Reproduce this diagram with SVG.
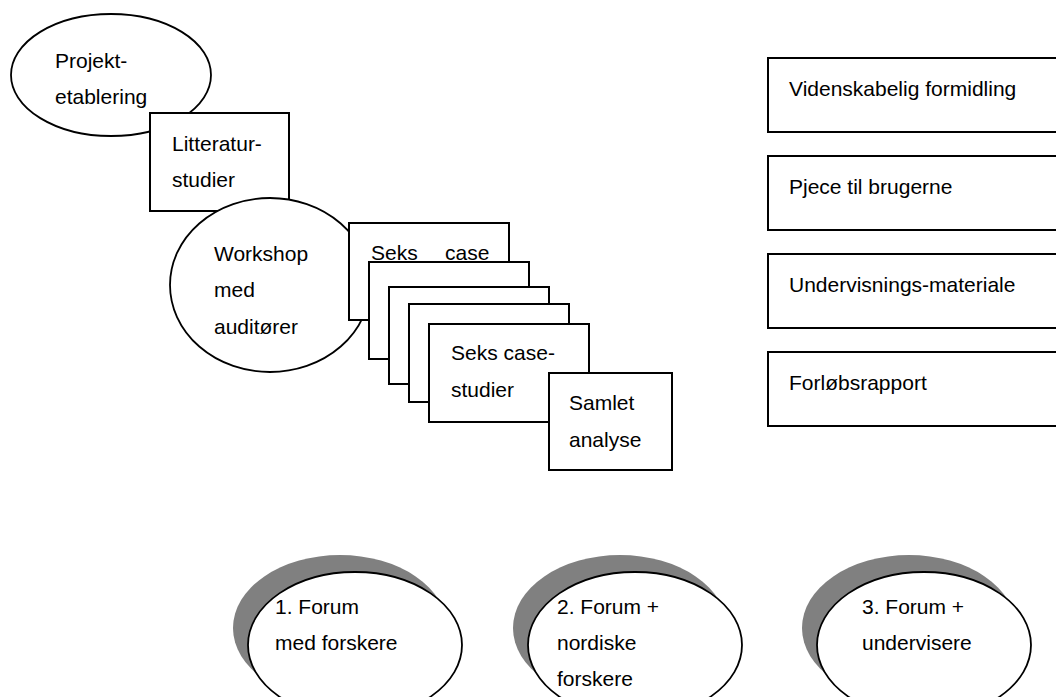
<svg xmlns="http://www.w3.org/2000/svg" width="1056" height="697" viewBox="0 0 1056 697">
  <style>
    .shape { fill: #ffffff; stroke: #000000; stroke-width: 2; }
    .oval { fill: #ffffff; stroke: #000000; stroke-width: 1.8; }
    .shadow { fill: #808080; stroke: none; }
    text { font-family: "Liberation Sans", Arial, sans-serif; font-size: 21px; fill: #000000; }
  </style>
  <rect x="0" y="0" width="1056" height="697" fill="#ffffff"/>

  <!-- project phases, stacked left to right -->
  <g id="projektetablering">
    <ellipse class="oval" cx="111" cy="75" rx="100" ry="61"/>
    <text x="55" y="68">Projekt-</text>
    <text x="55" y="104">etablering</text>
  </g>
  <g id="litteraturstudier">
    <rect class="shape" x="150" y="113" width="139" height="98"/>
    <text x="172" y="151">Litteratur-</text>
    <text x="172" y="187">studier</text>
  </g>
  <g id="workshop">
    <ellipse class="oval" cx="270" cy="285" rx="100" ry="87"/>
    <text x="214" y="261">Workshop</text>
    <text x="214" y="297">med</text>
    <text x="214" y="334">auditører</text>
  </g>
  <g id="casestudier">
    <rect class="shape" x="349" y="223" width="160" height="97"/>
    <text x="371" y="260">Seks</text>
    <text x="445" y="260">case</text>
    <rect class="shape" x="369" y="262" width="160" height="97"/>
    <rect class="shape" x="389" y="287" width="160" height="97"/>
    <rect class="shape" x="409" y="304" width="160" height="98"/>
    <rect class="shape" x="429" y="324" width="160" height="98"/>
    <text x="451" y="360">Seks case-</text>
    <text x="451" y="397">studier</text>
  </g>
  <g id="samlet-analyse">
    <rect class="shape" x="549" y="373" width="123" height="97"/>
    <text x="569" y="410">Samlet</text>
    <text x="569" y="447">analyse</text>
  </g>

  <!-- dissemination outputs -->
  <g id="videnskabelig-formidling">
    <rect class="shape" x="768" y="58" width="300" height="74"/>
    <text x="789" y="96">Videnskabelig formidling</text>
  </g>
  <g id="pjece">
    <rect class="shape" x="768" y="156" width="300" height="74"/>
    <text x="789" y="194">Pjece til brugerne</text>
  </g>
  <g id="undervisningsmateriale">
    <rect class="shape" x="768" y="254" width="300" height="74"/>
    <text x="789" y="292">Undervisnings-materiale</text>
  </g>
  <g id="forloebsrapport">
    <rect class="shape" x="768" y="352" width="300" height="74"/>
    <text x="789" y="390">Forløbsrapport</text>
  </g>

  <!-- forum meetings, each with a grey offset shadow -->
  <g id="forum-1">
    <ellipse class="shadow" cx="340" cy="628" rx="107" ry="73"/>
    <ellipse class="oval" cx="355" cy="645" rx="107" ry="73"/>
    <text x="275" y="614">1. Forum</text>
    <text x="275" y="650">med forskere</text>
  </g>
  <g id="forum-2">
    <ellipse class="shadow" cx="620" cy="628" rx="107" ry="73"/>
    <ellipse class="oval" cx="635" cy="645" rx="107" ry="73"/>
    <text x="557" y="614">2. Forum +</text>
    <text x="557" y="650">nordiske</text>
    <text x="557" y="686">forskere</text>
  </g>
  <g id="forum-3">
    <ellipse class="shadow" cx="909" cy="628" rx="107" ry="73"/>
    <ellipse class="oval" cx="924" cy="645" rx="107" ry="73"/>
    <text x="862" y="614">3. Forum +</text>
    <text x="862" y="650">undervisere</text>
  </g>

  <g id="connectors"></g>
</svg>
